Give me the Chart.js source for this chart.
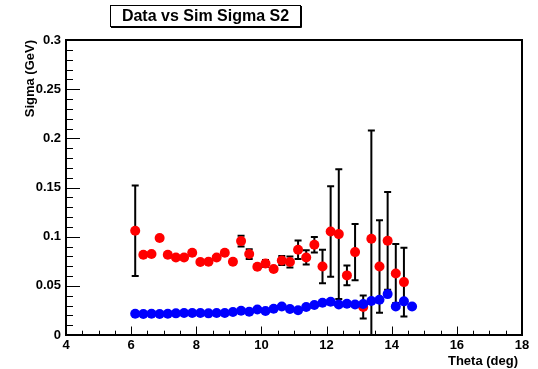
<!DOCTYPE html>
<html>
<head>
<meta charset="utf-8">
<title>Data vs Sim Sigma S2</title>
<script src="https://cdn.jsdelivr.net/npm/chart.js@4.4.1/dist/chart.umd.min.js"></script>
<style>
    body { margin: 0; background: #fff; }
    canvas { display: block; }
</style>
</head>
<body>
<canvas id="chart" width="538" height="369"></canvas>
<script>
// data (red points with errors)
const thetaData = [6.125, 6.375, 6.625, 6.875, 7.125, 7.375, 7.625, 7.875, 8.125, 8.375, 8.625, 8.875,
    9.125, 9.375, 9.625, 9.875, 10.125, 10.375, 10.625, 10.875, 11.125, 11.375, 11.625, 11.875,
    12.125, 12.375, 12.625, 12.875, 13.125, 13.375, 13.625, 13.875, 14.125, 14.375];
const sigmaData = [0.106, 0.0816, 0.0823, 0.0986, 0.0816, 0.0789, 0.0789, 0.0836, 0.0742, 0.0745, 0.0789, 0.0836,
    0.0745, 0.0955, 0.0823, 0.0694, 0.0728, 0.0671, 0.0758, 0.0742, 0.0867, 0.0789, 0.0918, 0.0697,
    0.1053, 0.1026, 0.0606, 0.0843, 0.0285, 0.0979, 0.0697, 0.0958, 0.0626, 0.0538];
const sigmaDataErr = [0.046, 0.002, 0.002, 0.002, 0.002, 0.002, 0.002, 0.002, 0.002, 0.002, 0.002, 0.002,
    0.002, 0.0055, 0.005, 0.002, 0.0035, 0.002, 0.0046, 0.0056, 0.0093, 0.0073, 0.0078, 0.017,
    0.046, 0.066, 0.010, 0.0285, 0.0117, 0.11, 0.047, 0.0497, 0.030, 0.035];

// simulation (blue points)
const thetaSim = [6.125, 6.375, 6.625, 6.875, 7.125, 7.375, 7.625, 7.875, 8.125, 8.375, 8.625, 8.875,
    9.125, 9.375, 9.625, 9.875, 10.125, 10.375, 10.625, 10.875, 11.125, 11.375, 11.625, 11.875,
    12.125, 12.375, 12.625, 12.875, 13.125, 13.375, 13.625, 13.875, 14.125, 14.375, 14.625];
const sigmaSim = [0.0216, 0.0213, 0.0216, 0.0213, 0.0216, 0.022, 0.0224, 0.0224, 0.0224, 0.022, 0.0224, 0.0224,
    0.0234, 0.0247, 0.0237, 0.026, 0.0244, 0.0267, 0.029, 0.0264, 0.0252, 0.0285, 0.0305, 0.0328,
    0.0338, 0.0311, 0.0318, 0.0311, 0.0315, 0.0345, 0.0359, 0.0416, 0.029, 0.0342, 0.029];

const titleText = 'Data vs Sim Sigma S2';
const xTitle = 'Theta (deg)';
const yTitle = 'Sigma (GeV)';
const fontFamily = '"Liberation Sans", Arial, Helvetica, sans-serif';

// ROOT style: error bars, frame, inward ticks, titles
const rootStyle = {
    id: 'rootStyle',
    beforeDatasetsDraw(chart) {
        const ctx = chart.ctx;
        const xs = chart.scales.x, ys = chart.scales.y;
        ctx.save();
        ctx.strokeStyle = '#000';
        ctx.lineWidth = 2;
        ctx.beginPath();
        thetaData.forEach((t, i) => {
            const px = xs.getPixelForValue(t);
            const lo = sigmaData[i] - sigmaDataErr[i];
            const top = ys.getPixelForValue(sigmaData[i] + sigmaDataErr[i]);
            const bot = ys.getPixelForValue(Math.max(lo, 0));
            ctx.moveTo(px, top); ctx.lineTo(px, bot);
            ctx.moveTo(px - 3.5, top); ctx.lineTo(px + 3.5, top);
            if (lo > 0) { ctx.moveTo(px - 3.5, bot); ctx.lineTo(px + 3.5, bot); }
        });
        ctx.stroke();
        ctx.restore();
    },
    afterDraw(chart) {
        const ctx = chart.ctx;
        const a = chart.chartArea;
        const xs = chart.scales.x, ys = chart.scales.y;
        ctx.save();

        // ticks
        ctx.strokeStyle = '#000';
        ctx.lineWidth = 1;
        ctx.beginPath();
        const xMajor = xs.ticks.map(t => t.value);
        for (let i = 0; i < xMajor.length; i++) {
            let px = Math.round(xs.getPixelForValue(xMajor[i])) + 0.5;
            ctx.moveTo(px, a.bottom); ctx.lineTo(px, a.bottom - 8.5);
            if (i < xMajor.length - 1) {
                const step = (xMajor[i + 1] - xMajor[i]) / 4;
                for (let k = 1; k < 4; k++) {
                    px = Math.round(xs.getPixelForValue(xMajor[i] + k * step)) + 0.5;
                    ctx.moveTo(px, a.bottom); ctx.lineTo(px, a.bottom - 4.3);
                }
            }
        }
        const yMajor = ys.ticks.map(t => t.value);
        for (let i = 0; i < yMajor.length; i++) {
            let py = Math.round(ys.getPixelForValue(yMajor[i])) + 0.5;
            ctx.moveTo(a.left, py); ctx.lineTo(a.left + 14, py);
            if (i < yMajor.length - 1) {
                const step = (yMajor[i + 1] - yMajor[i]) / 5;
                for (let k = 1; k < 5; k++) {
                    py = Math.round(ys.getPixelForValue(yMajor[i] + k * step)) + 0.5;
                    ctx.moveTo(a.left, py); ctx.lineTo(a.left + 7, py);
                }
            }
        }
        ctx.stroke();

        // frame
        ctx.lineWidth = 2;
        ctx.strokeRect(a.left, a.top, a.right - a.left, a.bottom - a.top);

        // axis titles
        ctx.fillStyle = '#000';
        ctx.font = 'bold 13px ' + fontFamily;
        ctx.textAlign = 'right';
        ctx.textBaseline = 'middle';
        ctx.fillText(xTitle, a.right - 4, 361);
        ctx.save();
        ctx.translate(30, a.top);
        ctx.rotate(-Math.PI / 2);
        ctx.fillText(yTitle, 0, 0);
        ctx.restore();

        // title box
        ctx.fillStyle = '#fff';
        ctx.fillRect(110, 5, 191, 22);
        ctx.lineWidth = 1;
        ctx.strokeRect(110.5, 5.5, 190, 21);
        ctx.beginPath();
        ctx.moveTo(111, 27.5); ctx.lineTo(301.5, 27.5); ctx.lineTo(301.5, 6);
        ctx.stroke();
        ctx.fillStyle = '#000';
        ctx.font = 'bold 16px ' + fontFamily;
        ctx.textAlign = 'center';
        ctx.fillText(titleText, 205.5, 17);

        ctx.restore();
    }
};

const tickFont = { family: fontFamily, size: 13, weight: 'bold' };

new Chart(document.getElementById('chart'), {
    type: 'scatter',
    data: {
        datasets: [
            {
                label: 'Sim',
                data: thetaSim.map((t, i) => ({ x: t, y: sigmaSim[i] })),
                backgroundColor: '#0000ff',
                borderWidth: 0,
                pointRadius: 5,
                order: 1
            },
            {
                label: 'Data',
                data: thetaData.map((t, i) => ({ x: t, y: sigmaData[i] })),
                backgroundColor: '#ff0000',
                borderWidth: 0,
                pointRadius: 5,
                order: 2
            }
        ]
    },
    options: {
        responsive: false,
        animation: false,
        devicePixelRatio: 1,
        layout: { padding: { top: 40, right: 16, left: 0, bottom: 0 } },
        plugins: { legend: { display: false }, tooltip: { enabled: false } },
        scales: {
            x: {
                type: 'linear',
                min: 4,
                max: 18,
                grid: { display: false, drawTicks: false },
                border: { display: false },
                ticks: { stepSize: 2, color: '#000', font: tickFont, padding: 3, maxRotation: 0 },
                afterFit: s => { s.height = 34; }
            },
            y: {
                min: 0,
                max: 0.3,
                grid: { display: false, drawTicks: false },
                border: { display: false },
                ticks: {
                    stepSize: 0.05, color: '#000', font: tickFont, padding: 5,
                    callback: v => String(+v.toFixed(2))
                },
                afterFit: s => { s.width = 66; }
            }
        }
    },
    plugins: [rootStyle]
});
</script>
</body>
</html>
